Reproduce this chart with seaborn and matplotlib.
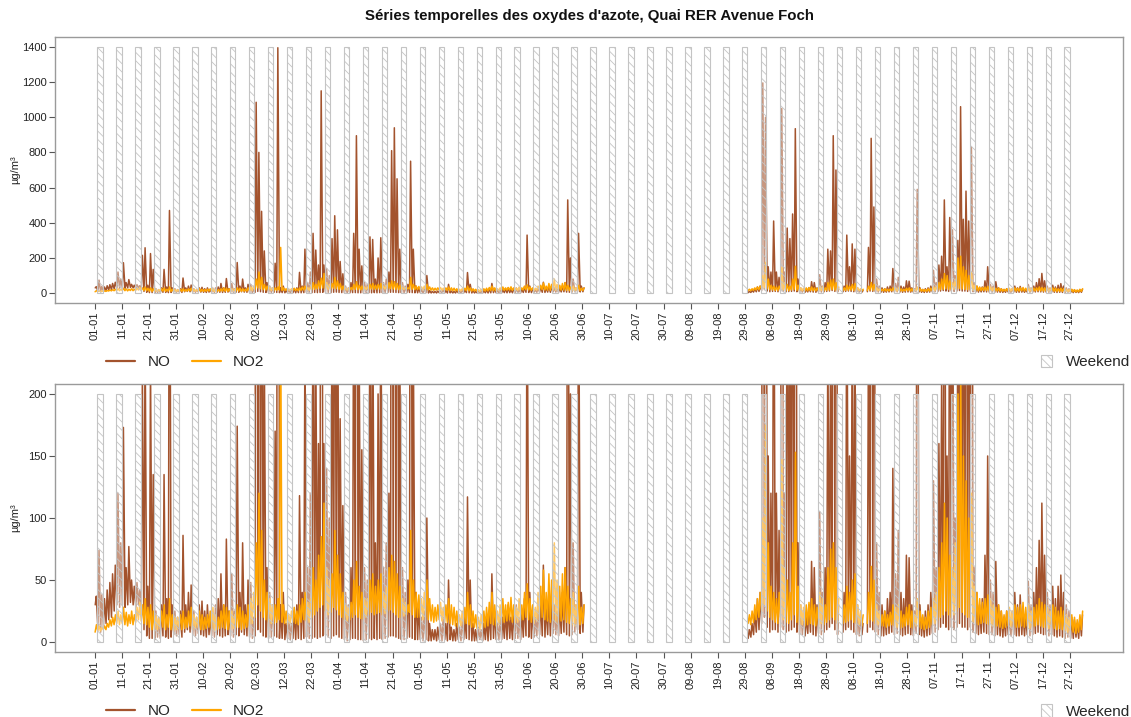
import numpy as np
import pandas as pd
import matplotlib
matplotlib.use("Agg")
import matplotlib.pyplot as plt
import matplotlib.patches as mpatches
from matplotlib.lines import Line2D
import seaborn as sns

# ---------------- data ----------------
TITLE = "Séries temporelles des oxydes d'azote, Quai RER Avenue Foch"
YLABEL = "µg/m³"
SERIES = ["NO", "NO2"]
WEEKEND_LABEL = "Weekend"
YEAR_START = "2010-01-01"
YEAR_END = "2010-12-31"

TICK_DAYS = list(range(0, 361, 10))
TICK_LABELS = ["01-01", "11-01", "21-01", "31-01", "10-02", "20-02", "02-03", "12-03",
               "22-03", "01-04", "11-04", "21-04", "01-05", "11-05", "21-05", "31-05",
               "10-06", "20-06", "30-06", "10-07", "20-07", "30-07", "09-08", "19-08",
               "29-08", "08-09", "18-09", "28-09", "08-10", "18-10", "28-10", "07-11",
               "17-11", "27-11", "07-12", "17-12", "27-12"]
TOP_YTICKS = [0, 200, 400, 600, 800, 1000, 1200, 1400]
BOTTOM_YTICKS = [0, 50, 100, 150, 200]

# first measured period: day 0 (01-01) .. day 180 (30-06)
SEG1_START = 0
NO_PEAK_1 = [37, 74, 38, 35, 42, 48, 55, 62, 120, 80,
             173, 60, 77, 50, 45, 48, 42, 215, 258, 45,
             225, 135, 25, 20, 30, 135, 35, 470, 30, 25,
             20, 25, 86, 30, 40, 46, 25, 20, 30, 33,
             25, 30, 20, 25, 30, 35, 55, 30, 83, 25,
             55, 25, 174, 40, 80, 30, 50, 48, 20, 1085,
             800, 465, 240, 60, 40, 30, 170, 1395, 30, 40,
             15, 20, 15, 25, 30, 118, 40, 250, 60, 120,
             340, 245, 160, 1150, 160, 140, 100, 310, 440, 360,
             180, 110, 40, 30, 60, 340, 895, 250, 155, 60,
             50, 320, 305, 80, 200, 315, 60, 80, 120, 810,
             940, 650, 250, 60, 40, 50, 750, 250, 40, 30,
             20, 25, 100, 15, 10, 10, 12, 15, 20, 15,
             50, 12, 10, 15, 12, 20, 20, 117, 50, 15,
             10, 12, 10, 15, 20, 25, 55, 25, 15, 20,
             20, 25, 30, 20, 25, 30, 20, 25, 35, 330,
             40, 25, 20, 30, 35, 62, 30, 40, 35, 30,
             25, 30, 40, 60, 530, 200, 80, 30, 340, 40, 30]
NO_LOW_1 = [30, 10, 8, 12, 15, 18, 20, 25, 30, 28,
            30, 28, 30, 32, 30, 28, 30, 25, 10, 5,
            3, 3, 2, 4, 3, 5, 4, 3, 4, 6,
            5, 6, 4, 8, 10, 8, 6, 5, 7, 6,
            5, 4, 6, 5, 4, 6, 5, 4, 5, 6,
            5, 4, 6, 5, 8, 6, 5, 4, 3, 5,
            10, 8, 5, 4, 3, 4, 5, 4, 3, 3,
            2, 3, 2, 3, 2, 3, 2, 3, 4, 3,
            3, 4, 3, 4, 5, 6, 4, 3, 5, 6,
            4, 3, 2, 1, 2, 3, 3, 2, 2, 1,
            2, 3, 2, 3, 2, 3, 2, 3, 4, 5,
            5, 4, 3, 2, 2, 3, 4, 3, 2, 2,
            2, 1, 2, 1, 1, 2, 1, 2, 1, 2,
            1, 2, 1, 1, 2, 1, 2, 3, 2, 1,
            1, 1, 2, 1, 2, 1, 2, 3, 2, 2,
            2, 3, 2, 3, 2, 3, 3, 2, 4, 5,
            4, 3, 4, 5, 6, 5, 4, 6, 5, 7,
            6, 5, 7, 8, 6, 5, 6, 8, 10, 7, 8]
NO2_HIGH_1 = [14, 13, 12, 13, 15, 18, 20, 22, 25, 22,
              28, 24, 22, 25, 22, 28, 32, 30, 35, 28,
              30, 25, 22, 20, 25, 30, 22, 35, 22, 20,
              20, 22, 25, 20, 25, 28, 22, 20, 25, 22,
              20, 22, 25, 28, 22, 20, 25, 30, 28, 25,
              25, 22, 30, 28, 25, 22, 30, 35, 40, 80,
              120, 90, 50, 40, 35, 30, 30, 35, 260, 30,
              25, 22, 25, 28, 25, 30, 35, 40, 32, 35,
              60, 50, 70, 85, 112, 60, 50, 55, 90, 70,
              55, 40, 30, 28, 32, 50, 65, 45, 40, 35,
              35, 50, 55, 45, 50, 55, 40, 45, 60, 70,
              65, 55, 45, 35, 32, 30, 90, 50, 40, 38,
              35, 40, 50, 35, 30, 28, 30, 32, 28, 30,
              35, 30, 28, 25, 22, 25, 28, 40, 30, 25,
              22, 20, 22, 25, 28, 32, 40, 30, 25, 30,
              35, 30, 32, 36, 30, 28, 35, 30, 40, 47,
              35, 30, 28, 40, 45, 58, 40, 55, 50, 80,
              50, 45, 55, 60, 45, 35, 40, 30, 45, 28, 30]
NO2_LOW_1 = [8, 9, 9, 10, 10, 12, 13, 14, 15, 14,
             15, 14, 13, 15, 14, 16, 18, 17, 15, 14,
             12, 10, 9, 10, 11, 12, 10, 12, 10, 9,
             10, 12, 10, 11, 12, 13, 10, 11, 12, 10,
             10, 11, 12, 10, 9, 10, 11, 12, 11, 10,
             10, 11, 12, 12, 10, 11, 12, 13, 15, 20,
             30, 25, 20, 18, 16, 15, 15, 16, 18, 16,
             15, 14, 15, 16, 15, 14, 16, 18, 17, 16,
             20, 22, 25, 28, 30, 25, 22, 24, 28, 26,
             22, 20, 18, 17, 18, 20, 22, 20, 19, 18,
             20, 22, 24, 22, 23, 24, 22, 23, 25, 26,
             24, 22, 20, 20, 21, 22, 24, 22, 20, 20,
             20, 18, 20, 18, 17, 16, 17, 18, 17, 16,
             16, 15, 14, 13, 12, 13, 14, 15, 14, 12,
             12, 11, 10, 11, 12, 13, 15, 14, 13, 14,
             15, 16, 17, 18, 16, 15, 16, 17, 18, 20,
             18, 16, 15, 17, 18, 20, 18, 17, 16, 18,
             16, 15, 17, 18, 16, 15, 14, 13, 15, 14, 15]

# second measured period: day 241 (30-08) .. day 364 (31-12)
SEG2_START = 241
nan = float("nan")
NO_PEAK_2 = [10, 15, 25, 35, 40, 1195, 1000, 150, 120, 410,
             120, 90, 1050, 120, 370, 310, 450, 935, 80, 30,
             25, 20, 30, 65, 60, 30, 105, 40, 60, 250,
             240, 895, 700, 30, nan, 40, 330, 150, 280, 250,
             30, 20, 15, nan, 260, 880, 490, 80, 40, 30,
             25, 35, 40, 140, 55, 90, 40, 35, 70, 68,
             30, 25, 590, 30, 20, 25, 30, 40, 130, 60,
             160, 210, 530, 150, 430, 360, 100, 300, 1060, 420,
             580, 410, 830, 60, 40, 30, 35, 70, 150, 50,
             40, 65, 30, 25, 20, 25, 20, 25, 40, 30,
             38, 25, 20, 49, 30, 40, 60, 82, 112, 70,
             40, 30, 45, 35, 45, 54, 40, 30, 25, 20,
             18, 15, 20, 22]
NO_LOW_2 = [3, 4, 6, 8, 10, 15, 20, 12, 8, 10,
            10, 8, 12, 10, 8, 9, 10, 12, 8, 6,
            6, 5, 7, 8, 6, 5, 7, 6, 8, 10,
            12, 15, 10, 6, nan, 8, 10, 12, 10, 8,
            6, 5, 6, nan, 8, 12, 10, 8, 6, 5,
            5, 6, 7, 8, 6, 7, 6, 5, 6, 7,
            6, 5, 7, 6, 5, 4, 5, 6, 7, 8,
            10, 12, 15, 12, 10, 12, 10, 12, 15, 12,
            12, 10, 12, 8, 7, 6, 7, 8, 7, 6,
            6, 5, 6, 5, 4, 5, 6, 5, 6, 5,
            5, 6, 5, 6, 5, 6, 7, 8, 7, 6,
            6, 5, 6, 5, 4, 5, 4, 3, 4, 3,
            3, 4, 3, 5]
NO2_HIGH_2 = [22, 25, 30, 35, 40, 100, 175, 80, 45, 40,
              35, 40, 147, 60, 50, 40, 80, 153, 45, 30,
              28, 30, 32, 35, 30, 28, 40, 35, 30, 60,
              75, 80, 60, 35, nan, 30, 45, 40, 50, 55,
              30, 25, 22, nan, 40, 61, 50, 30, 25, 22,
              25, 22, 24, 30, 28, 30, 25, 22, 28, 30,
              25, 22, 35, 25, 22, 20, 25, 28, 35, 40,
              60, 80, 112, 100, 70, 60, 80, 200, 210, 150,
              130, 100, 120, 45, 40, 35, 32, 35, 38, 35,
              30, 28, 30, 25, 22, 25, 28, 25, 30, 28,
              30, 32, 28, 30, 25, 28, 30, 35, 32, 30,
              28, 25, 30, 28, 25, 28, 25, 22, 20, 22,
              20, 18, 22, 25]
NO2_LOW_2 = [15, 14, 16, 18, 20, 25, 30, 25, 20, 18,
             16, 15, 20, 18, 16, 15, 18, 22, 16, 14,
             14, 13, 14, 15, 14, 13, 14, 15, 14, 16,
             18, 20, 18, 15, nan, 15, 16, 17, 18, 16,
             15, 14, 13, nan, 15, 18, 17, 15, 14, 13,
             13, 12, 13, 14, 13, 12, 11, 12, 13, 14,
             12, 11, 13, 12, 11, 10, 11, 12, 14, 15,
             18, 20, 22, 25, 22, 20, 22, 25, 28, 24,
             22, 20, 20, 16, 15, 14, 15, 16, 15, 14,
             13, 12, 13, 12, 11, 12, 13, 12, 13, 12,
             12, 13, 12, 13, 11, 12, 13, 14, 13, 12,
             12, 11, 12, 11, 10, 11, 10, 9, 8, 9,
             8, 7, 8, 10]

# ---------------- styling ----------------
COLORS = {"NO": "#A3532D", "NO2": "#FFA500"}
FRAME_GRAY = "#9A9A9A"
HATCH_GRAY = "#C4C4C4"


def long_frame(start, low, high, name, off_low, off_high, seg_base):
    recs = []
    seg = seg_base
    for i, (lo, hi) in enumerate(zip(low, high)):
        d = start + i
        if np.isnan(lo) or np.isnan(hi):
            seg += 1
            continue
        recs.append((d + off_low, lo, name, seg))
        recs.append((d + off_high, hi, name, seg))
    return pd.DataFrame(recs, columns=["t", "value", "species", "seg"])


df = pd.concat([
    long_frame(SEG1_START, NO_LOW_1, NO_PEAK_1, "NO", 0.25, 0.65, 0),
    long_frame(SEG2_START, NO_LOW_2, NO_PEAK_2, "NO", 0.25, 0.65, 100),
    long_frame(SEG1_START, NO2_LOW_1, NO2_HIGH_1, "NO2", 0.2, 0.7, 200),
    long_frame(SEG2_START, NO2_LOW_2, NO2_HIGH_2, "NO2", 0.2, 0.7, 300),
], ignore_index=True)

year0 = pd.Timestamp(YEAR_START)
saturdays = pd.date_range(YEAR_START, YEAR_END, freq="W-SAT")
weekend_days = [(s - year0).days for s in saturdays]

sns.set_theme(style="ticks")
plt.rcParams["font.family"] = ["Liberation Sans", "DejaVu Sans"]
plt.rcParams["hatch.linewidth"] = 0.6
plt.rcParams["hatch.color"] = HATCH_GRAY

fig = plt.figure(figsize=(11.31, 7.17), dpi=100)
W, H = 1131, 717
ax_top = fig.add_axes([55 / W, 1 - 303 / H, 1068 / W, 266 / H])
ax_bot = fig.add_axes([55 / W, 1 - 652 / H, 1068 / W, 268 / H])

xmin, xmax = -14.6, 379.6

for ax, yticks in ((ax_top, TOP_YTICKS), (ax_bot, BOTTOM_YTICKS)):
    ytop = yticks[-1]
    pad = 0.04 * ytop
    sns.lineplot(data=df, x="t", y="value", hue="species", hue_order=SERIES,
                 units="seg", estimator=None, sort=False, palette=COLORS,
                 lw=1.1, legend=False, ax=ax, zorder=2)
    ax.bar(weekend_days, [ytop] * len(weekend_days), width=2, bottom=0, align="edge",
           facecolor=(1, 1, 1, 0.4), edgecolor=HATCH_GRAY, hatch="\\\\\\\\",
           linewidth=0.8, zorder=3)
    ax.set_xlim(xmin, xmax)
    ax.set_ylim(-pad, ytop + pad)
    ax.set_xticks(TICK_DAYS)
    ax.set_xticklabels(TICK_LABELS, rotation=90)
    ax.set_yticks(yticks)
    ax.set_xlabel("")
    ax.set_ylabel(YLABEL, fontsize=8, color="#222222")
    ax.yaxis.set_label_coords(-0.033, 0.5)
    ax.tick_params(axis="both", labelsize=8, length=4, width=0.8,
                   color="#555555", labelcolor="#222222", pad=2)
    for sp in ax.spines.values():
        sp.set_visible(True)
        sp.set_color(FRAME_GRAY)
        sp.set_linewidth(1.0)

    leg1 = ax.legend(handles=[Line2D([], [], color=COLORS["NO"], lw=1.6),
                              Line2D([], [], color=COLORS["NO2"], lw=1.6)],
                     labels=SERIES, ncol=2, loc="center left",
                     bbox_to_anchor=(0.048, -0.222), frameon=False, fontsize=11,
                     handlelength=1.9, handletextpad=0.8, columnspacing=1.4,
                     borderaxespad=0, borderpad=0)
    ax.add_artist(leg1)
    ax.legend(handles=[mpatches.Patch(facecolor="white", edgecolor=HATCH_GRAY,
                                      hatch="\\\\\\\\", linewidth=0.8)],
              labels=[WEEKEND_LABEL], loc="center right",
              bbox_to_anchor=(1.007, -0.222), frameon=False, fontsize=11,
              handlelength=0.75, handleheight=0.9, handletextpad=0.9,
              borderaxespad=0, borderpad=0)

ax_top.set_title(TITLE, fontsize=10.8, fontweight="bold", pad=12, color="#111111")

fig.savefig("out.png", dpi=100)
